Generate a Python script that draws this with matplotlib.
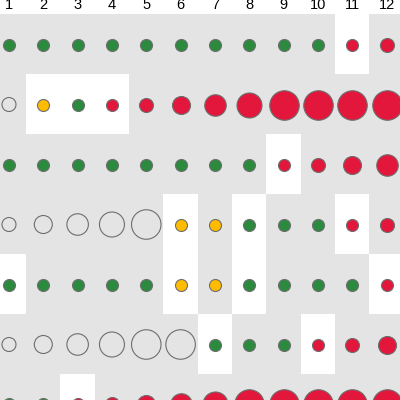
import numpy as np
import matplotlib.pyplot as plt
from matplotlib.colors import ListedColormap

plt.rcParams['font.family'] = ['Liberation Sans', 'DejaVu Sans']

columns = list(range(1, 13))

# colour code per cell: g green, y yellow, r red, o open circle
row_colors = [
    "ggggggggggrr",
    "oygrrrrrrrrr",
    "ggggggggrrrr",
    "oooooyygggrr",
    "gggggyyggggr",
    "oooooogggrrr",
    "ggrrrrrrrrrr",
]
# size level per cell (1 = smallest)
row_sizes = [
    [1, 1, 1, 1, 1, 1, 1, 1, 1, 1, 1, 2],
    [2, 1, 1, 1, 2, 3, 4, 5, 6, 6, 6, 6],
    [1, 1, 1, 1, 1, 1, 1, 1, 1, 2, 3, 4],
    [2, 3, 4, 5, 6, 1, 1, 1, 1, 1, 1, 2],
    [1, 1, 1, 1, 1, 1, 1, 1, 1, 1, 1, 1],
    [2, 3, 4, 5, 6, 6, 1, 1, 1, 1, 2, 3],
    [1, 1, 1, 2, 3, 4, 5, 6, 6, 6, 6, 6],
]
# highlighted (white) cells: row -> columns
highlight = {1: [11], 2: [2, 3, 4], 3: [9], 4: [6, 8, 11],
             5: [1, 6, 8, 12], 6: [7, 10], 7: [3]}

level_px = [12, 14, 18, 21.5, 25, 29.5]
face = {"g": "#2b8a3e", "y": "#ffbb00", "r": "#e3163c", "o": "none"}

nrows = len(row_colors)
mask = np.zeros((nrows, 12))
for r, cols in highlight.items():
    for c in cols:
        mask[r - 1, c - 1] = 1

fig = plt.figure(figsize=(4, 4), dpi=100)
ax = fig.add_axes([0, 0, 1, 1])
ax.imshow(mask, cmap=ListedColormap(["#e4e4e4", "white"]), vmin=0, vmax=1,
          extent=(0.5, 12.5, nrows + 0.5, 0.5), aspect="auto", zorder=0)

for i in range(nrows):
    for j, c in enumerate(columns):
        code = row_colors[i][j]
        d = level_px[row_sizes[i][j] - 1] * 0.72
        ax.scatter(c, i + 1, s=d ** 2, facecolor=face[code],
                   edgecolor="#6e6e6e", linewidth=0.8, zorder=2)

for c in columns:
    ax.text(c, 0.408, str(c), ha="center", va="baseline", fontsize=10.5, color="black")

ax.set_xlim(0.738, 12.393)
ax.set_ylim(6.925, 0.258)
ax.axis("off")

fig.savefig("out.png", dpi=100)
